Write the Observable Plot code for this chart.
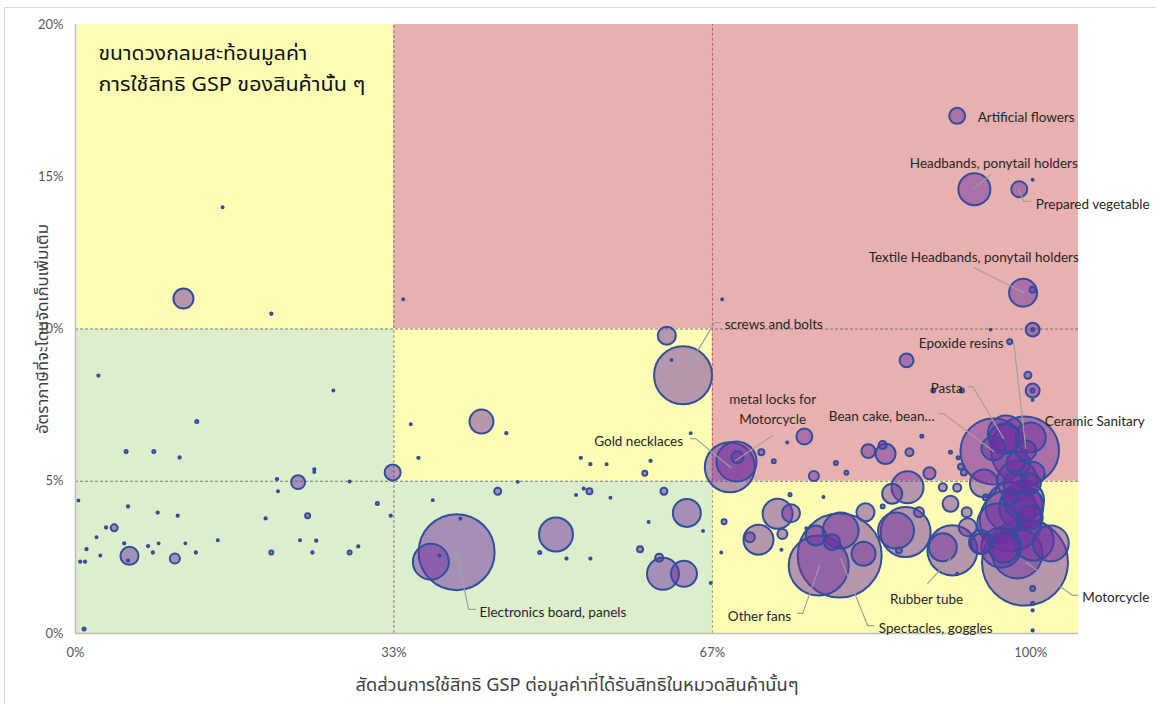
<!DOCTYPE html>
<html>
<head>
<meta charset="utf-8">
<script src="https://cdn.jsdelivr.net/npm/d3@7"></script>
<script src="https://cdn.jsdelivr.net/npm/@observablehq/plot@0.6"></script>
<style>
  html, body { margin: 0; padding: 0; background: #fff; }
  #frame { position: absolute; left: 4px; top: 7px; width: 1300px; height: 900px; border: 1px solid #d9d9d9; pointer-events: none; }
  #chart { position: absolute; left: 0; top: 0; }
</style>
</head>
<body>
<div id="frame"></div>
<div id="chart"></div>
<script>
// ---- axis ticks ----
const xTicks = [0, 33.33, 66.67, 100];
const xTickLabels = ["0%", "33%", "67%", "100%"];
const yTicks = [0, 5, 10, 15, 20];
const yTickLabels = ["0%", "5%", "10%", "15%", "20%"];

const xTitle = "สัดส่วนการใช้สิทธิ GSP ต่อมูลค่าที่ได้รับสิทธิในหมวดสินค้านั้นๆ";
const yTitle = "อัตราภาษีที่จะโดนจัดเก็บเพิ่มเติม";
const noteLines = ["ขนาดวงกลมสะท้อนมูลค่า", "การใช้สิทธิ GSP ของสินค้านั้น ๆ"];

// ---- quadrant zones: [share from, share to, rate from, rate to, zone] ----
const zones = [
  [0, 33.33, 10, 20, "watch"],
  [0, 33.33, 0, 10, "low"],
  [33.33, 66.67, 10, 20, "high"],
  [33.33, 66.67, 5, 10, "watch"],
  [33.33, 66.67, 0, 5, "low"],
  [66.67, 105, 5, 20, "high"],
  [66.67, 105, 0, 5, "watch"]
];

// ---- bubbles: [GSP utilisation share %, extra duty rate %, GSP value] ----
const bubblesLowShare = [
  [11.3, 11.0, 52], [20.5, 10.5, 0.7], [15.4, 14.0, 0.5], [2.4, 8.47, 0.7],
  [12.7, 6.96, 1.2], [5.3, 5.98, 1.2], [8.2, 5.98, 1.2], [10.9, 5.78, 0.7],
  [27.0, 7.98, 0.5], [21.1, 5.07, 0.7], [23.3, 4.97, 25], [25.0, 5.39, 0.7],
  [25.0, 5.3, 0.5], [33.2, 5.29, 33], [34.3, 10.98, 0.5], [28.7, 4.99, 0.5],
  [0.3, 4.37, 0.5], [5.5, 4.17, 0.7], [8.6, 3.97, 0.7], [10.7, 3.87, 0.7],
  [19.9, 3.78, 0.7], [24.3, 3.87, 3.2], [31.6, 4.27, 1.2], [33.0, 3.87, 0.7],
  [21.2, 4.67, 0.5], [3.2, 3.48, 0.7], [4.05, 3.47, 6.3], [2.2, 3.16, 0.5],
  [5.1, 2.96, 0.7], [1.15, 2.77, 0.7], [7.6, 2.87, 0.7], [8.7, 2.96, 0.5],
  [11.5, 2.96, 0.5], [14.9, 3.06, 0.5], [23.5, 3.06, 0.5], [25.2, 3.05, 0.7],
  [29.6, 2.86, 0.7], [0.5, 2.36, 0.7], [1.0, 2.36, 0.7], [2.6, 2.56, 0.5],
  [5.65, 2.55, 42], [5.5, 2.4, 0.7], [8.1, 2.66, 0.7], [10.4, 2.46, 13],
  [12.6, 2.66, 0.7], [20.5, 2.66, 2], [24.8, 2.66, 0.7], [28.7, 2.66, 2],
  [0.9, 0.15, 1.2]
];
const bubblesMidShare = [
  [61.9, 9.78, 42], [63.6, 8.48, 434], [62.4, 8.98, 0.5], [42.5, 6.96, 74],
  [35.1, 6.87, 0.5], [45.1, 6.58, 0.7], [35.9, 5.77, 0.7], [52.9, 5.77, 0.7],
  [53.9, 5.56, 0.7], [55.6, 5.56, 0.5], [60.2, 5.67, 0.7], [59.6, 5.26, 3.2],
  [64.4, 6.58, 0.5], [46.3, 4.98, 0.5], [44.2, 4.67, 6.3], [37.4, 4.38, 0.5],
  [53.2, 4.76, 0.7], [53.8, 4.67, 4.6], [52.4, 4.55, 0.5], [56.0, 4.46, 0.5],
  [61.6, 4.67, 6.3], [40.3, 3.77, 0.5], [39.9, 2.67, 746], [37.2, 2.36, 167],
  [38.1, 2.56, 0.7], [50.3, 3.25, 149], [64.0, 3.96, 101], [60.0, 3.66, 0.5],
  [65.7, 3.37, 0.5], [59.1, 2.77, 4.6], [48.6, 2.66, 1.2], [51.4, 2.46, 0.7],
  [53.9, 2.46, 0.7], [61.1, 2.49, 8.3], [61.5, 1.96, 132], [63.7, 1.96, 87],
  [66.5, 1.66, 0.5]
];
const bubblesHighShare = [
  [67.6, 2.66, 0.5], [67.9, 3.67, 3.2], [67.7, 10.98, 0.5], [68.5, 5.46, 323],
  [69.2, 5.65, 207], [69.3, 5.79, 19], [76.3, 6.47, 33], [74.5, 6.27, 0.5],
  [71.8, 5.95, 4.6], [73.1, 5.66, 2], [77.3, 5.17, 13], [79.6, 5.6, 2],
  [80.7, 5.28, 2], [83.0, 5.99, 25], [84.8, 5.9, 52], [84.5, 6.19, 8.3],
  [92.3, 17.0, 33], [94.1, 14.59, 132], [98.8, 14.59, 33], [100.2, 14.9, 0.5],
  [99.2, 11.19, 101], [100.2, 11.29, 4.6], [100.2, 9.98, 25], [100.2, 9.98, 1.2],
  [95.8, 9.98, 0.5], [97.8, 9.58, 3.2], [87.0, 8.97, 25], [99.7, 8.48, 6.3],
  [100.2, 7.98, 25], [100.2, 7.98, 2], [100.2, 7.67, 0.5], [89.8, 7.98, 2],
  [92.8, 7.98, 2], [88.6, 6.48, 1.2], [91.6, 5.95, 1.2], [92.4, 5.77, 1.2],
  [92.7, 5.48, 4.6], [93.0, 5.29, 4.6], [87.3, 5.95, 8.3], [89.4, 5.26, 19],
  // yellow lower-right region
  [73.5, 3.93, 116], [74.9, 3.95, 42], [71.5, 3.08, 116], [70.6, 3.16, 13],
  [74.0, 3.27, 13], [74.8, 4.56, 1.2], [78.3, 4.48, 0.5], [73.9, 2.75, 0.5],
  [76.5, 3.46, 0.5], [80.0, 2.56, 911], [77.8, 2.23, 465], [80.1, 3.38, 167],
  [77.5, 3.22, 52], [79.2, 3.0, 33], [82.5, 2.62, 74], [82.7, 3.98, 42],
  [84.5, 4.17, 2], [86.2, 2.73, 4.6], [85.9, 3.38, 167], [86.9, 3.33, 323],
  [87.1, 4.8, 132], [85.5, 4.59, 52], [90.8, 4.8, 8.3], [91.6, 4.26, 33],
  [93.3, 3.98, 13], [88.3, 3.98, 13], [93.4, 3.49, 42], [94.8, 3.0, 74],
  [91.8, 2.73, 323], [90.8, 2.83, 101], [92.3, 1.96, 0.5], [92.3, 4.79, 8.3],
  [95.3, 4.47, 4.6],
  // dense cluster near 100%
  [96.1, 5.98, 562], [99.4, 6.01, 597], [97.4, 6.57, 167], [97.2, 6.4, 116],
  [96.1, 6.08, 74], [100.0, 6.44, 116], [99.5, 6.01, 52], [98.7, 5.58, 74],
  [100.2, 5.25, 74], [95.1, 4.93, 101], [98.4, 4.93, 74], [100.0, 4.93, 52],
  [97.9, 4.47, 33], [99.0, 4.14, 250], [99.7, 4.27, 116], [97.9, 4.14, 323],
  [96.5, 3.61, 207], [100.0, 3.81, 74], [94.8, 2.96, 52], [99.4, 2.33, 955],
  [97.2, 2.82, 116], [100.3, 3.05, 207], [98.6, 2.63, 323], [102.1, 2.96, 167],
  [99.3, 4.37, 207], [98.6, 5.02, 207], [96.9, 2.82, 207], [97.9, 3.71, 496],
  [100.2, 1.48, 3.2], [100.2, 0.99, 1.2], [100.2, 0.76, 0.7], [100.2, 0.1, 0.7]
];

// ---- annotations: [text, share %, rate %, anchor] ----
const labels = [
  ["Artificial flowers", 94.45, 17.01, "start"],
  ["Headbands, ponytail holders", 96.13, 15.5, "middle"],
  ["Prepared vegetable", 100.52, 14.15, "start"],
  ["Textile Headbands, ponytail holders", 94.03, 12.41, "middle"],
  ["screws and bolts", 67.96, 10.21, "start"],
  ["Epoxide resins", 97.17, 9.59, "end"],
  ["Pasta", 91.2, 8.11, "middle"],
  ["Bean cake, bean…", 84.4, 7.19, "middle"],
  ["Ceramic Sanitary", 101.47, 7.03, "start"],
  ["metal locks for\nMotorcycle", 72.98, 7.41, "middle"],
  ["Gold necklaces", 58.95, 6.37, "middle"],
  ["Electronics board, panels", 42.3, 0.76, "start"],
  ["Other fans", 71.6, 0.62, "middle"],
  ["Spectacles, goggles", 84.1, 0.23, "start"],
  ["Rubber tube", 89.1, 1.18, "middle"],
  ["Motorcycle", 105.4, 1.25, "start"]
];
// leader lines: list of [share %, rate %] points
const leaders = [
  [[95.8, 15.07], [94.0, 14.61]],
  [[98.74, 14.58], [99.27, 14.19], [100.0, 14.19]],
  [[94.03, 12.02], [99.27, 11.2]],
  [[63.56, 8.47], [66.91, 10.21], [67.54, 10.21]],
  [[98.22, 9.56], [99.48, 6.08]],
  [[93.4, 8.11], [93.93, 8.11], [97.17, 6.4]],
  [[90.37, 7.22], [90.89, 7.22], [96.13, 5.98]],
  [[72.98, 6.5], [69.1, 5.68]],
  [[64.4, 6.4], [64.92, 6.4], [68.59, 5.45]],
  [[39.9, 2.66], [41.15, 0.79], [41.88, 0.79]],
  [[75.6, 0.66], [76.13, 0.66], [77.9, 2.23]],
  [[83.56, 0.26], [82.93, 0.26], [80.1, 2.46]],
  [[89.2, 1.64], [91.6, 2.46]],
  [[104.9, 1.25], [104.4, 1.25], [99.5, 2.33]]
];

// ---- build tables ----
const zoneColors = { watch: "#FDFDB4", low: "#DDEECC", high: "#E9B0B0" };
const zoneRows = zones.map(([x1, x2, y1, y2, z]) => ({ x1, x2, y1, y2, fill: zoneColors[z] }));
const bubbles = [...bubblesLowShare, ...bubblesMidShare, ...bubblesHighShare]
  .map(([x, y, v]) => ({ x, y, v }));
const labelRows = labels.map(([text, x, y, anchor]) => ({ text, x, y, anchor }));
const leaderRows = leaders.flatMap((pts, i) => pts.map(([x, y]) => ({ id: i, x, y })));

const labelFont = "Lato, 'Open Sans', sans-serif";
const thaiFont = "'Noto Sans Thai', 'Noto Sans', 'DejaVu Sans', sans-serif";

const labelMark = anchor => Plot.text(labelRows.filter(d => d.anchor === anchor), {
  x: "x", y: "y", text: "text", textAnchor: anchor,
  fill: "#262626", fontSize: 13.5, fontFamily: labelFont, lineHeight: 1.45
});

const chart = Plot.plot({
  width: 1156,
  height: 704,
  marginLeft: 75,
  marginRight: 78,
  marginTop: 24,
  marginBottom: 71,
  style: { fontFamily: labelFont, fontSize: "13px", color: "#595959", background: "transparent", overflow: "visible" },
  x: {
    domain: [0, 105],
    ticks: xTicks,
    tickFormat: d => xTickLabels[xTicks.indexOf(d)],
    tickSize: 0,
    tickPadding: 14,
    label: null
  },
  y: {
    domain: [0, 20],
    ticks: yTicks,
    tickFormat: d => yTickLabels[yTicks.indexOf(d)],
    tickSize: 0,
    tickPadding: 12,
    label: null
  },
  r: { type: "sqrt", domain: [0, 1000], range: [0, 44] },
  color: { type: "identity" },
  marks: [
    Plot.rect(zoneRows, { x1: "x1", x2: "x2", y1: "y1", y2: "y2", fill: "fill" }),
    // quadrant dividers
    Plot.ruleY([5, 10], { x1: 0, x2: 105, stroke: "#6b6b6b", strokeWidth: 0.9, strokeDasharray: "3,2" }),
    Plot.ruleX([33.33], { y1: 0, y2: 20, stroke: "#6b6b6b", strokeWidth: 0.9, strokeDasharray: "3,2" }),
    Plot.ruleX([66.67], { y1: 5, y2: 20, stroke: "#C0504D", strokeWidth: 1, strokeDasharray: "3,2" }),
    Plot.ruleX([66.67], { y1: 0, y2: 5, stroke: "#8a9a70", strokeWidth: 0.9, strokeDasharray: "3,2" }),
    // axis lines
    Plot.ruleX([0], { y1: 0, y2: 20, stroke: "#bfbfbf", strokeWidth: 1.5 }),
    Plot.ruleY([0], { x1: 0, x2: 105, stroke: "#bfbfbf", strokeWidth: 1.5 }),
    // bubbles
    Plot.dot(bubbles, {
      x: "x", y: "y", r: "v",
      fill: "#7030A0", fillOpacity: 0.5,
      stroke: "#2F4F9C", strokeWidth: 2
    }),
    // leader lines
    Plot.line(leaderRows, { x: "x", y: "y", z: "id", stroke: "#a0a0a0", strokeWidth: 1.2, curve: "linear" }),
    // labels
    labelMark("start"),
    labelMark("middle"),
    labelMark("end"),
    // size note
    Plot.text([noteLines[0]], { x: 2.4, y: 19.05, text: d => d, textAnchor: "start", fontSize: 19, fill: "#111", fontFamily: thaiFont }),
    Plot.text([noteLines[1]], { x: 2.4, y: 18.0, text: d => d, textAnchor: "start", fontSize: 19, fill: "#111", fontFamily: thaiFont }),
    // axis titles
    Plot.text([yTitle], { frameAnchor: "left", textAnchor: "middle", lineAnchor: "middle", text: d => d, rotate: -90, dx: -32, fontSize: 15, fill: "#404040", fontFamily: thaiFont }),
    Plot.text([xTitle], { frameAnchor: "bottom", text: d => d, dy: 57, fontSize: 18, fill: "#404040", fontFamily: thaiFont })
  ]
});

// condense/stretch the Thai titles to the reference widths
const fitWidths = new Map([[yTitle, 210], [xTitle, 443], [noteLines[0], 209], [noteLines[1], 267]]);
d3.select(chart).selectAll("text").each(function () {
  const w = fitWidths.get(this.textContent);
  if (w) {
    this.setAttribute("textLength", w);
    this.setAttribute("lengthAdjust", "spacingAndGlyphs");
  }
});
document.getElementById("chart").appendChild(chart);
</script>
</body>
</html>
